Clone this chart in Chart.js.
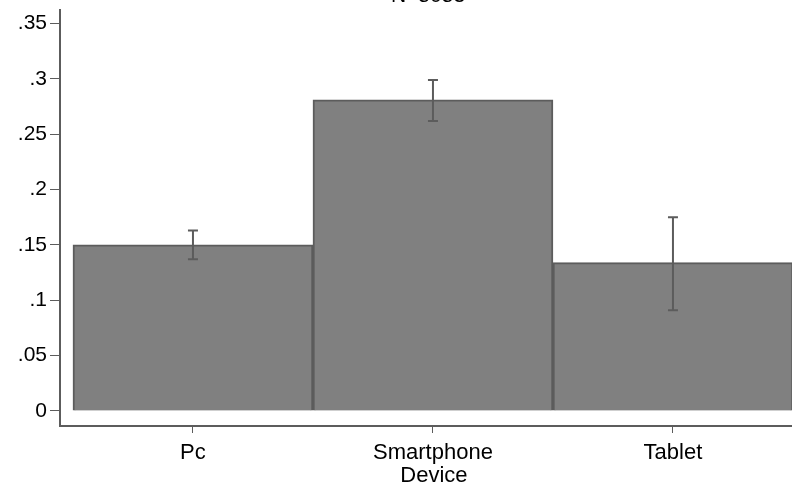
<!DOCTYPE html>
<html>
<head>
<meta charset="utf-8">
<script src="https://cdn.jsdelivr.net/npm/chart.js@4.4.1/dist/chart.umd.min.js"></script>
<style>
  html, body { margin: 0; padding: 0; background: #fff; }
  #wrap { width: 792px; height: 483px; }
</style>
</head>
<body>
<div id="wrap"><canvas id="device-plot" width="792" height="483"></canvas></div>
<script>
// datos
const categorias = ['Pc', 'Smartphone', 'Tablet'];
const medias = [0.150, 0.281, 0.134];
const limiteInf = [0.137, 0.262, 0.091];
const limiteSup = [0.163, 0.299, 0.175];
const yTicks = [0, 0.05, 0.1, 0.15, 0.2, 0.25, 0.3, 0.35];
const titulo = 'N=5053';
const tituloEjeX = 'Device';

const fuente = "'Liberation Sans', Arial, sans-serif";
const gris = '#5c5c5c';

// barras de error dibujadas con las escalas del grafico
const errorBars = {
    id: 'errorBars',
    afterDatasetsDraw(chart) {
        const ctx = chart.ctx;
        const x = chart.scales.x;
        const y = chart.scales.y;
        ctx.save();
        ctx.strokeStyle = gris;
        ctx.lineWidth = 2;
        for (let i = 0; i < categorias.length; i++) {
            let px = x.getPixelForValue(i);
            let top = y.getPixelForValue(limiteSup[i]);
            let bot = y.getPixelForValue(limiteInf[i]);
            ctx.beginPath();
            ctx.moveTo(px, top); ctx.lineTo(px, bot);
            ctx.moveTo(px - 5, top); ctx.lineTo(px + 5, top);
            ctx.moveTo(px - 5, bot); ctx.lineTo(px + 5, bot);
            ctx.stroke();
        }
        ctx.restore();
    }
};

// titulo cortado arriba y titulo del eje x bajo la categoria central
const textos = {
    id: 'textos',
    afterDraw(chart) {
        const ctx = chart.ctx;
        const area = chart.chartArea;
        const x = chart.scales.x;
        ctx.save();
        ctx.fillStyle = '#000';
        ctx.textAlign = 'center';
        ctx.textBaseline = 'alphabetic';
        ctx.font = '21px ' + fuente;
        ctx.fillText(titulo, (area.left + area.right) / 2 + 2, 2);
        ctx.font = '22px ' + fuente;
        ctx.fillText(tituloEjeX, x.getPixelForValue(1) + 1, 482);
        ctx.restore();
    }
};

let ctx = document.getElementById('device-plot').getContext('2d');
let barChart = new Chart(ctx, {
    type: 'bar',
    data: {
        datasets: [{
            data: medias.map((v, i) => ({ x: i, y: v })),
            backgroundColor: '#808080',
            borderColor: gris,
            borderWidth: 2,
            barPercentage: 1,
            categoryPercentage: 1
        }]
    },
    plugins: [errorBars, textos],
    options: {
        responsive: false,
        animation: false,
        layout: { padding: { top: 10, right: 0, left: 0, bottom: 0 } },
        plugins: {
            legend: { display: false },
            tooltip: { enabled: false }
        },
        scales: {
            x: {
                type: 'linear',
                offset: false,
                min: -0.554,
                max: 2.496,
                afterBuildTicks: s => { s.ticks = categorias.map((c, i) => ({ value: i })); },
                afterFit: s => { s.height = 57; s.paddingLeft = 0; s.paddingRight = 0; },
                grid: { offset: false, drawOnChartArea: false, drawTicks: true, tickLength: 7, color: gris, lineWidth: 1 },
                border: { display: true, color: gris, width: 2 },
                ticks: {
                    color: '#000',
                    font: { family: fuente, size: 22 },
                    padding: 7,
                    maxRotation: 0,
                    autoSkip: false,
                    callback: v => categorias[v]
                }
            },
            y: {
                min: -0.01355,
                max: 0.3622,
                afterBuildTicks: s => { s.ticks = yTicks.map(v => ({ value: v })); },
                afterFit: s => { s.width = 60; s.paddingTop = 0; s.paddingBottom = 0; },
                grid: { drawOnChartArea: false, drawTicks: true, tickLength: 10, color: gris, lineWidth: 1 },
                border: { display: true, color: gris, width: 2 },
                ticks: {
                    color: '#000',
                    font: { family: fuente, size: 21 },
                    padding: 3,
                    callback: v => v === 0 ? '0' : String(+v.toFixed(2)).replace(/^0\./, '.')
                }
            }
        }
    }
});
</script>
</body>
</html>
